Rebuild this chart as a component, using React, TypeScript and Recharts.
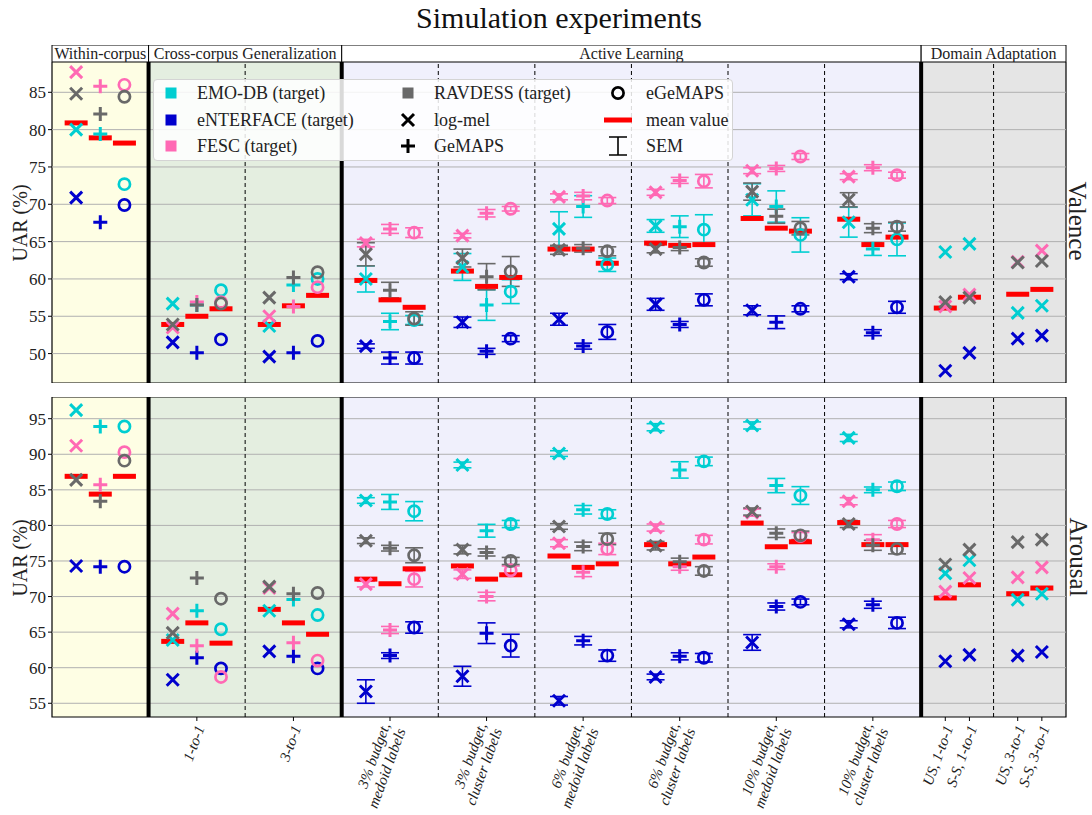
import React from 'react';
import {
  ComposedChart,
  Scatter,
  ErrorBar,
  XAxis,
  YAxis,
  ReferenceArea,
  ReferenceLine,
  Legend,
} from 'recharts';

const FONT = '"Liberation Serif", "DejaVu Serif", serif';
const W = 1092;

const DATASETS = ['EMO-DB (target)', 'eNTERFACE (target)', 'FESC (target)', 'RAVDESS (target)'];
const DATASET_COLORS = ['#00ced1', '#0000cd', '#ff69b4', '#696969'];
const FEATURES = ['log-mel', 'GeMAPS', 'eGeMAPS'];

const SECTIONS = ['Within-corpus', 'Cross-corpus Generalization', 'Active Learning', 'Domain Adaptation'];
const SECTION_FILLS = ['#fefee4', '#e4eee0', '#f0f0fc', '#e5e5e5'];
const GROUP_LABELS = [
  '',
  '1-to-1',
  '3-to-1',
  '3% budget,\nmedoid labels',
  '3% budget,\ncluster labels',
  '6% budget,\nmedoid labels',
  '6% budget,\ncluster labels',
  '10% budget,\nmedoid labels',
  '10% budget,\ncluster labels',
];
const DA_LABELS = ['US, 1-to-1', 'S-S, 1-to-1', 'US, 3-to-1', 'S-S, 3-to-1'];

// ---- Valence: [dataset][group] ----
const valLogMel = [
  [80.0, 56.7, 53.7, 60.0, 61.6, 66.7, 67.1, 70.6, 67.6],
  [70.9, 51.5, 49.6, 51.0, 54.2, 54.6, 56.6, 55.8, 60.3],
  [87.7, 53.5, 55.0, 64.8, 65.8, 71.0, 71.6, 74.5, 73.7],
  [84.8, 53.9, 57.5, 63.3, 62.8, 63.9, 64.0, 71.7, 70.6],
];
const valGeMAPS = [
  [79.4, 56.5, 59.2, 54.3, 56.5, 69.7, 67.0, 69.7, 64.0],
  [67.6, 50.1, 50.1, 49.4, 50.3, 51.0, 53.9, 54.2, 52.8],
  [85.8, 56.9, 56.3, 66.7, 68.8, 71.1, 73.2, 74.8, 74.9],
  [82.1, 56.5, 60.2, 58.5, 60.3, 64.1, 64.2, 68.4, 66.8],
];
const valEGeMAPS = [
  [72.7, 58.5, 60.0, 54.5, 58.3, 61.9, 66.6, 65.9, 65.3],
  [69.9, 51.9, 51.7, 49.4, 52.0, 52.9, 57.2, 56.0, 56.2],
  [86.0, 56.9, 58.9, 66.2, 69.4, 70.5, 73.1, 76.4, 73.9],
  [84.4, 56.7, 60.9, 54.7, 61.0, 63.7, 62.2, 66.8, 67.0],
];
const valMeanLogMel = [80.9, 53.9, 53.9, 59.8, 61.05, 64.0, 64.8, 68.1, 68.0];
const valMeanGeMAPS = [78.9, 55.0, 56.4, 57.2, 59.0, 64.0, 64.5, 66.8, 64.6];
const valMeanEGeMAPS = [78.2, 56.0, 57.8, 56.2, 60.2, 62.1, 64.6, 66.4, 65.6];
// SEM, active learning groups only
const valSemLogMel = [
  [1.75, 1.8, 2.3, 0.85, 2.15, 2.0],
  [0.3, 0.7, 0.8, 0.8, 0.6, 0.4],
  [0.5, 0.3, 0.4, 0.4, 0.4, 0.4],
  [1.55, 1.2, 0.6, 0.5, 1.15, 0.95],
];
const valSemGeMAPS = [
  [1.1, 2.05, 1.45, 1.45, 2.1, 0.85],
  [0.8, 0.4, 0.4, 0.4, 0.85, 0.4],
  [0.6, 0.5, 0.5, 0.4, 0.4, 0.4],
  [1.05, 1.75, 0.5, 0.4, 0.95, 0.6],
];
const valSemEGeMAPS = [
  [0.6, 1.6, 0.9, 2.0, 2.3, 2.2],
  [0.8, 0.4, 1.0, 0.8, 0.4, 0.8],
  [0.65, 0.3, 0.4, 0.9, 0.4, 0.4],
  [0.9, 2.0, 0.6, 0.5, 0.9, 0.6],
];
const valDomainAdapt = [
  [63.6, 64.7, 55.45, 56.4],
  [47.7, 50.1, 52.0, 52.4],
  [56.3, 57.9, 62.3, 63.8],
  [56.9, 57.5, 62.2, 62.4],
];
const valDomainMeans = [56.1, 57.55, 57.95, 58.6];

// ---- Arousal: [dataset][group] ----
const aroLogMel = [
  [96.2, 63.9, 68.0, 83.5, 88.5, 90.1, 93.8, 94.05, 92.3],
  [74.3, 58.3, 62.3, 56.65, 58.8, 55.35, 58.7, 63.55, 66.1],
  [91.2, 67.6, 71.2, 71.75, 73.15, 77.5, 79.7, 81.8, 83.4],
  [86.4, 64.9, 71.4, 77.85, 76.6, 79.85, 77.15, 81.95, 80.2],
];
const aroGeMAPS = [
  [93.9, 68.0, 69.6, 83.3, 79.25, 82.2, 87.8, 85.6, 85.0],
  [74.2, 61.4, 61.6, 61.7, 64.85, 63.8, 61.6, 68.6, 68.85],
  [85.7, 63.1, 63.5, 65.3, 70.0, 73.4, 74.2, 74.2, 78.0],
  [83.4, 72.6, 70.4, 76.8, 76.2, 77.05, 74.9, 78.9, 77.2],
];
const aroEGeMAPS = [
  [93.9, 65.4, 67.4, 82.0, 80.2, 81.6, 89.0, 84.2, 85.5],
  [74.2, 59.9, 59.9, 65.65, 63.1, 61.7, 61.4, 69.25, 66.3],
  [90.3, 58.7, 61.0, 72.45, 73.7, 76.7, 78.0, 78.5, 80.2],
  [89.1, 69.7, 70.5, 75.8, 75.0, 78.1, 73.6, 78.6, 76.7],
];
const aroMeanLogMel = [86.9, 63.7, 68.2, 72.45, 74.3, 75.7, 77.3, 80.33, 80.4];
const aroMeanGeMAPS = [84.4, 66.3, 66.3, 71.8, 72.45, 74.1, 74.6, 77.0, 77.3];
const aroMeanEGeMAPS = [86.9, 63.45, 64.7, 73.9, 73.06, 74.6, 75.55, 77.7, 77.3];
const aroSemLogMel = [
  [0.4, 0.4, 0.4, 0.5, 0.5, 0.5],
  [1.65, 1.4, 0.6, 0.4, 1.1, 0.5],
  [0.4, 0.6, 0.5, 0.5, 0.5, 0.5],
  [0.4, 0.6, 0.4, 0.6, 0.5, 0.5],
];
const aroSemGeMAPS = [
  [1.05, 0.9, 0.6, 1.15, 1.0, 0.4],
  [0.4, 1.45, 0.6, 0.5, 0.5, 0.5],
  [0.5, 0.6, 0.6, 0.5, 0.4, 0.7],
  [0.4, 0.5, 0.6, 0.5, 0.6, 0.7],
];
const aroSemEGeMAPS = [
  [1.35, 0.5, 0.6, 0.6, 1.25, 0.6],
  [0.8, 1.6, 0.8, 0.6, 0.4, 0.8],
  [1.1, 0.6, 0.8, 0.6, 0.5, 0.5],
  [1.05, 0.5, 0.8, 0.6, 0.6, 0.7],
];
const aroDomainAdapt = [
  [73.25, 75.1, 69.55, 70.4],
  [60.9, 61.8, 61.7, 62.2],
  [70.7, 72.6, 72.7, 74.1],
  [74.5, 76.6, 77.65, 78.0],
];
const aroDomainMeans = [69.8, 71.65, 70.4, 71.2];

const valenceTicks = [50, 55, 60, 65, 70, 75, 80, 85];
const arousalTicks = [55, 60, 65, 70, 75, 80, 85, 90, 95];

// ---- x layout: 9 regular groups of width 1, then two narrower domain-adaptation groups ----
const N_GROUPS = GROUP_LABELS.length;
const DA_W = 0.75;
const X_MAX = N_GROUPS + 2 * DA_W;
const AL_START = 3;
const featureX = (g: number, f: number) => g + 0.25 * (f + 1);
const daX = (k: number) => N_GROUPS + DA_W * Math.floor(k / 2) + 0.25 * ((k % 2) + 1);
const SECTION_BOUNDS = [
  [0, 1],
  [1, AL_START],
  [AL_START, N_GROUPS],
  [N_GROUPS, X_MAX],
];
const SOLID_LINES = [1, AL_START, N_GROUPS];
const DASHED_LINES = [2, 4, 5, 6, 7, 8, N_GROUPS + DA_W];

const X_TICKS = [
  ...GROUP_LABELS.map((label, g) => ({ x: g + 0.5, label })).filter((t) => t.label),
  ...DA_LABELS.map((label, k) => ({ x: daX(k), label })),
];

function markerShape(feature: number, color: string) {
  return (p: any) => {
    const { cx, cy } = p;
    if (cx == null || cy == null) return <g />;
    if (feature === 0) {
      const s = 6;
      return (
        <path
          d={`M${cx - s},${cy - s}L${cx + s},${cy + s}M${cx - s},${cy + s}L${cx + s},${cy - s}`}
          stroke={color}
          strokeWidth={3}
          fill="none"
        />
      );
    }
    if (feature === 1) {
      const s = 7;
      return (
        <path
          d={`M${cx - s},${cy}H${cx + s}M${cx},${cy - s}V${cy + s}`}
          stroke={color}
          strokeWidth={3}
          fill="none"
        />
      );
    }
    return <circle cx={cx} cy={cy} r={5.6} stroke={color} strokeWidth={2.7} fill="none" />;
  };
}

const meanShape = (p: any) => {
  const { cx, cy } = p;
  if (cx == null || cy == null) return <g />;
  return <rect x={cx - 11.5} y={cy - 2.5} width={23} height={5} fill="#ff0000" />;
};

function XTick(props: any) {
  const { x, y, payload } = props;
  const hit = X_TICKS.find((t) => Math.abs(t.x - payload.value) < 1e-6);
  const lines = (hit ? hit.label : '').split('\n');
  const lh = 1.1;
  const first = 0.35 - ((lines.length - 1) * lh) / 2;
  return (
    <g transform={`translate(${x + 3},${y + 3})`}>
      <text
        transform="rotate(-70)"
        textAnchor="end"
        fontFamily={FONT}
        fontSize={15}
        fontStyle="italic"
        fill="#222"
      >
        {lines.map((l, i) => (
          <tspan key={i} x={0} dy={i === 0 ? `${first}em` : `${lh}em`}>
            {l}
          </tspan>
        ))}
      </text>
    </g>
  );
}

function LegendIcon({ kind, color }: { kind: string; color: string }) {
  return (
    <svg width={30} height={22} style={{ position: 'absolute', left: -15, top: -11 }}>
      {kind === 'square' && <rect x={9.5} y={5.5} width={11} height={11} fill={color} />}
      {kind === 'x' && <path d="M9,5L21,17M9,17L21,5" stroke="#000" strokeWidth={3} />}
      {kind === '+' && <path d="M8,11H22M15,4V18" stroke="#000" strokeWidth={3} />}
      {kind === 'o' && <circle cx={15} cy={11} r={5.6} stroke="#000" strokeWidth={2.7} fill="none" />}
      {kind === 'mean' && <rect x={1} y={8.5} width={28} height={5} fill="#ff0000" />}
      {kind === 'sem' && (
        <path d="M6,2H24M6,20H24M15,2V20" stroke="#000" strokeWidth={1.6} fill="none" />
      )}
    </svg>
  );
}

const LEGEND_ITEMS = [
  ...DATASETS.map((name, i) => ({ name, kind: 'square', color: DATASET_COLORS[i] })),
  { name: FEATURES[0], kind: 'x', color: '#000' },
  { name: FEATURES[1], kind: '+', color: '#000' },
  { name: FEATURES[2], kind: 'o', color: '#000' },
  { name: 'mean value', kind: 'mean', color: '#ff0000' },
  { name: 'SEM', kind: 'sem', color: '#000' },
];
const LEGEND_COL_ICON = [17, 254, 464];
const LEGEND_COL_TEXT = [43, 280, 492];
const LEGEND_ROW_Y = [13, 40, 66];

function LegendBox() {
  return (
    <div
      style={{
        position: 'relative',
        width: 580,
        height: 82,
        boxSizing: 'border-box',
        background: 'rgba(255,255,255,0.85)',
        border: '1px solid #d4d4d4',
        borderRadius: 4,
        fontFamily: FONT,
        fontSize: 18,
        color: '#222',
      }}
    >
      {LEGEND_ITEMS.map((it, i) => {
        const col = Math.floor(i / 3);
        const row = i % 3;
        return (
          <React.Fragment key={it.name}>
            <div style={{ position: 'absolute', left: LEGEND_COL_ICON[col], top: LEGEND_ROW_Y[row] }}>
              <LegendIcon kind={it.kind} color={it.color} />
            </div>
            <div
              style={{
                position: 'absolute',
                left: LEGEND_COL_TEXT[col],
                top: LEGEND_ROW_Y[row] - 11,
                lineHeight: '22px',
                whiteSpace: 'nowrap',
              }}
            >
              {it.name}
            </div>
          </React.Fragment>
        );
      })}
    </div>
  );
}

type PanelProps = {
  values: number[][][];
  sems: number[][][];
  means: number[][];
  da: number[][];
  daMeans: number[];
  domain: [number, number];
  ticks: number[];
  top: number;
  plotHeight: number;
  withXAxis?: boolean;
  withLegend?: boolean;
};

function Panel({ values, sems, means, da, daMeans, domain, ticks, top, plotHeight, withXAxis, withLegend }: PanelProps) {
  const meanPts = [
    ...means.flatMap((row, f) => row.map((y, g) => ({ x: featureX(g, f), y }))),
    ...daMeans.map((y, k) => ({ x: daX(k), y })),
  ];
  const xAxisH = withXAxis ? 96 : 0;

  return (
    <div style={{ position: 'absolute', left: 0, top }}>
      <ComposedChart
        width={W}
        height={plotHeight + xAxisH}
        margin={{ top: 0, right: 26, bottom: 0, left: 12 }}
        style={{ overflow: 'visible' }}
      >
        <XAxis
          type="number"
          dataKey="x"
          domain={[0, X_MAX]}
          ticks={X_TICKS.map((t) => t.x)}
          interval={0}
          hide={!withXAxis}
          height={xAxisH}
          tick={<XTick />}
          tickSize={4}
          tickMargin={2}
          tickLine={{ stroke: '#000' }}
          axisLine={false}
        />
        <YAxis
          type="number"
          dataKey="y"
          domain={domain}
          ticks={ticks}
          interval={0}
          width={40}
          tickSize={4}
          tickMargin={2}
          tickLine={{ stroke: '#000' }}
          axisLine={false}
          tick={{ fontSize: 17, fill: '#222', fontFamily: FONT }}
        />

        {SECTION_BOUNDS.map(([x1, x2], i) => (
          <ReferenceArea key={`bg${i}`} x1={x1} x2={x2} fill={SECTION_FILLS[i]} fillOpacity={1} stroke="none" />
        ))}
        {ticks.map((t) => (
          <ReferenceLine key={`g${t}`} y={t} stroke="#b0b0b0" strokeWidth={1} />
        ))}
        {DASHED_LINES.map((x) => (
          <ReferenceLine key={`d${x}`} x={x} stroke="#000" strokeWidth={1} strokeDasharray="4 3" />
        ))}
        {SOLID_LINES.map((x) => (
          <ReferenceLine key={`s${x}`} x={x} stroke="#000" strokeWidth={4} />
        ))}
        <ReferenceArea x1={0} x2={X_MAX} y1={domain[0]} y2={domain[1]} fill="none" stroke="#000" strokeWidth={1.2} />

        <Scatter data={meanPts} shape={meanShape} isAnimationActive={false} />

        {DATASETS.map((ds, d) =>
          FEATURES.map((feat, f) => {
            const plain = values[f][d]
              .map((y, g) => ({ x: featureX(g, f), y, g }))
              .filter((p) => p.g < AL_START);
            if (f === 0) da[d].forEach((y, k) => plain.push({ x: daX(k), y, g: -1 }));
            const withErr = values[f][d]
              .map((y, g) => ({ x: featureX(g, f), y, g, sem: sems[f][d][g - AL_START] }))
              .filter((p) => p.g >= AL_START);
            const color = DATASET_COLORS[d];
            return (
              <React.Fragment key={`${ds}-${feat}`}>
                <Scatter data={plain} shape={markerShape(f, color)} isAnimationActive={false} />
                <Scatter data={withErr} shape={markerShape(f, color)} isAnimationActive={false}>
                  <ErrorBar dataKey="sem" direction="y" width={9} stroke={color} strokeWidth={1.6} />
                </Scatter>
              </React.Fragment>
            );
          }),
        )}

        {withLegend && (
          <Legend
            layout="vertical"
            align="center"
            verticalAlign="middle"
            content={() => <LegendBox />}
            wrapperStyle={{ left: 153, top: 17, width: 580, height: 82 }}
          />
        )}
      </ComposedChart>
    </div>
  );
}

// the section header strip shares the panels' x scale; two invisible anchor points give it a domain
const headerAnchors = [
  { x: 0, y: 0 },
  { x: X_MAX, y: 1 },
];

function SectionHeader() {
  return (
    <div style={{ position: 'absolute', left: 0, top: 45 }}>
      <ComposedChart
        width={W}
        height={17}
        data={headerAnchors}
        margin={{ top: 0, right: 26, bottom: 0, left: 52 }}
      >
        <XAxis type="number" dataKey="x" domain={[0, X_MAX]} hide />
        <YAxis type="number" dataKey="y" domain={[0, 1]} hide />
        <Scatter data={headerAnchors} shape={() => <g />} isAnimationActive={false} />
        {SECTION_BOUNDS.map(([x1, x2], i) => (
          <ReferenceArea
            key={SECTIONS[i]}
            x1={x1}
            x2={x2}
            y1={0}
            y2={1}
            fill="#fff"
            fillOpacity={1}
            stroke="#000"
            strokeWidth={1}
            ifOverflow="visible"
            label={{ value: SECTIONS[i], position: 'center', fill: '#222', fontSize: 16, fontFamily: FONT }}
          />
        ))}
      </ComposedChart>
    </div>
  );
}

const sideText = (text: string, x: number, y: number, angle: number, size: number) => (
  <div
    style={{
      position: 'absolute',
      left: x,
      top: y,
      transform: `translate(-50%,-50%) rotate(${angle}deg)`,
      whiteSpace: 'nowrap',
      fontSize: size,
      lineHeight: 1,
      color: '#222',
    }}
  >
    {text}
  </div>
);

export default function App() {
  return (
    <div
      style={{
        position: 'absolute',
        left: 0,
        top: 0,
        width: W,
        height: 815,
        background: '#fff',
        fontFamily: FONT,
        overflow: 'hidden',
      }}
    >
      <div
        style={{
          position: 'absolute',
          left: 52,
          width: 1014,
          top: 3,
          textAlign: 'center',
          fontSize: 30,
          lineHeight: '30px',
          color: '#111',
        }}
      >
        Simulation experiments
      </div>

      <SectionHeader />

      <Panel
        values={[valLogMel, valGeMAPS, valEGeMAPS]}
        sems={[valSemLogMel, valSemGeMAPS, valSemEGeMAPS]}
        means={[valMeanLogMel, valMeanGeMAPS, valMeanEGeMAPS]}
        da={valDomainAdapt}
        daMeans={valDomainMeans}
        domain={[46.06, 89.06]}
        ticks={valenceTicks}
        top={62}
        plotHeight={321}
        withLegend
      />
      <Panel
        values={[aroLogMel, aroGeMAPS, aroEGeMAPS]}
        sems={[aroSemLogMel, aroSemGeMAPS, aroSemEGeMAPS]}
        means={[aroMeanLogMel, aroMeanGeMAPS, aroMeanEGeMAPS]}
        da={aroDomainAdapt}
        daMeans={aroDomainMeans}
        domain={[53.07, 98.05]}
        ticks={arousalTicks}
        top={397}
        plotHeight={320}
        withXAxis
      />

      {sideText('UAR (%)', 20, 223, -90, 20)}
      {sideText('UAR (%)', 20, 558, -90, 20)}
      {sideText('Valence', 1077, 221, 90, 25)}
      {sideText('Arousal', 1078, 557, 90, 25)}
    </div>
  );
}
